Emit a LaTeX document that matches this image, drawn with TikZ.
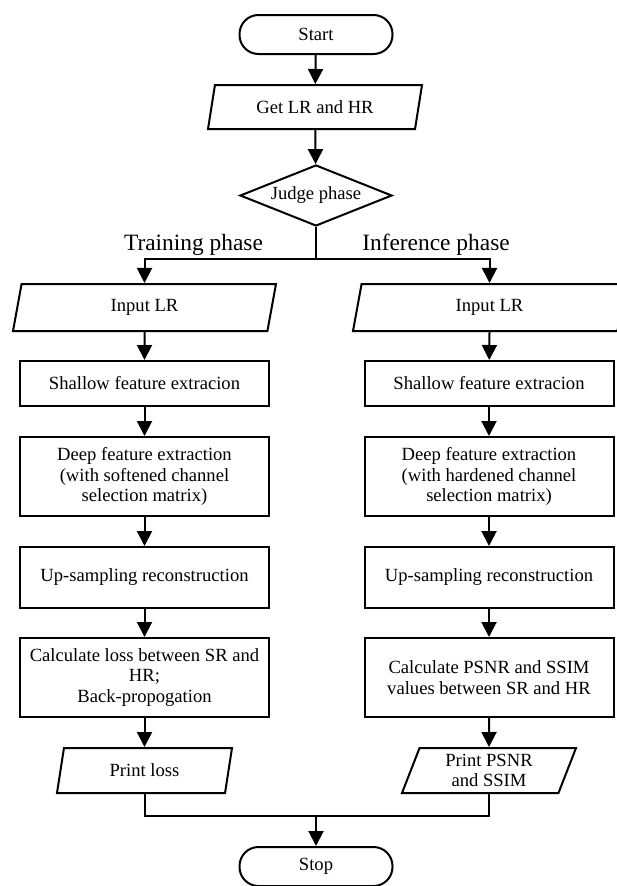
\documentclass[tikz,border=0pt]{standalone}
\usepackage{fontspec}
\setmainfont{Liberation Serif}
\usepackage{tikz}
\usetikzlibrary{arrows.meta,shapes.geometric}

\begin{document}
\begin{tikzpicture}[x=1pt,y=-1pt,
  font=\fontsize{18.6}{20.5}\selectfont,
  line width=2pt,
  startstop/.style={draw,rectangle,rounded corners=19pt,minimum width=153pt,minimum height=39pt,inner sep=0pt},
  io/.style={draw,trapezium,trapezium left angle=62,trapezium right angle=118,trapezium stretches body,inner sep=0pt,align=center},
  process/.style={draw,rectangle,minimum width=249pt,inner sep=0pt,align=center},
  decision/.style={draw,diamond,aspect=2.5,minimum width=152pt,minimum height=61pt,inner sep=0pt},
  phase/.style={font=\fontsize{23.4}{25}\selectfont,anchor=base},
  flow/.style={-{Triangle[width=15pt,length=15pt]}}]
\useasboundingbox (0,0) rectangle (616,886);

\node[startstop] (start) at (316,34.5) {Start};
\node[io,minimum width=214pt,minimum height=44pt] (getdata) at (315,107) {Get LR and HR};
\node[decision] (judge) at (316,195.5) {Judge phase};
\node[phase] (train) at (193.5,250) {Training phase};
\node[phase] (infer) at (436,250) {Inference phase};
\coordinate (split) at (316,259);

% training branch
\node[io,minimum width=263pt,minimum height=47pt] (inL) at (144.5,307.5) {Input LR};
\node[process,minimum height=45pt] (shallowL) at (144.5,383.5) {Shallow feature extracion};
\node[process,minimum height=79pt] (deepL) at (144.5,476.5) {Deep feature extraction\\(with softened channel\\selection matrix)};
\node[process,minimum height=61pt] (upL) at (144.5,577.5) {Up-sampling reconstruction};
\node[process,minimum height=79pt] (calcL) at (144.5,677.5) {Calculate loss between SR and\\HR;\\Back-propogation};
\node[io,minimum width=175pt,minimum height=45pt] (printL) at (144.5,770.5) {Print loss};

% inference branch
\node[io,minimum width=273pt,minimum height=47pt] (inR) at (489.5,307.5) {Input LR};
\node[process,minimum height=45pt] (shallowR) at (489,383.5) {Shallow feature extracion};
\node[process,minimum height=79pt] (deepR) at (489,476.5) {Deep feature extraction\\(with hardened channel\\selection matrix)};
\node[process,minimum height=61pt] (upR) at (489,577.5) {Up-sampling reconstruction};
\node[process,minimum height=79pt] (calcR) at (489,677.5) {Calculate PSNR and SSIM\\values between SR and HR};
\node[io,minimum width=174pt,minimum height=45pt] (printR) at (489,770.5) {Print PSNR\\and SSIM};

\coordinate (merge) at (316,816);
\node[startstop] (stop) at (316,866.5) {Stop};

\draw[flow] (start) -- (getdata);
\draw[flow] (getdata) -- (judge);
\draw (judge.south) -- (split);
\draw[flow] (split) -| (inL.north);
\draw[flow] (split) -| (inR.north);
\draw[flow] (inL) -- (shallowL);
\draw[flow] (shallowL) -- (deepL);
\draw[flow] (deepL) -- (upL);
\draw[flow] (upL) -- (calcL);
\draw[flow] (calcL) -- (printL);
\draw[flow] (inR.south) -- (shallowR);
\draw[flow] (shallowR) -- (deepR);
\draw[flow] (deepR) -- (upR);
\draw[flow] (upR) -- (calcR);
\draw[flow] (calcR) -- (printR.north);
\draw (printL.south) |- (merge);
\draw (printR.south) |- (merge);
\draw[flow] (merge) -- (stop);
\end{tikzpicture}
\end{document}
